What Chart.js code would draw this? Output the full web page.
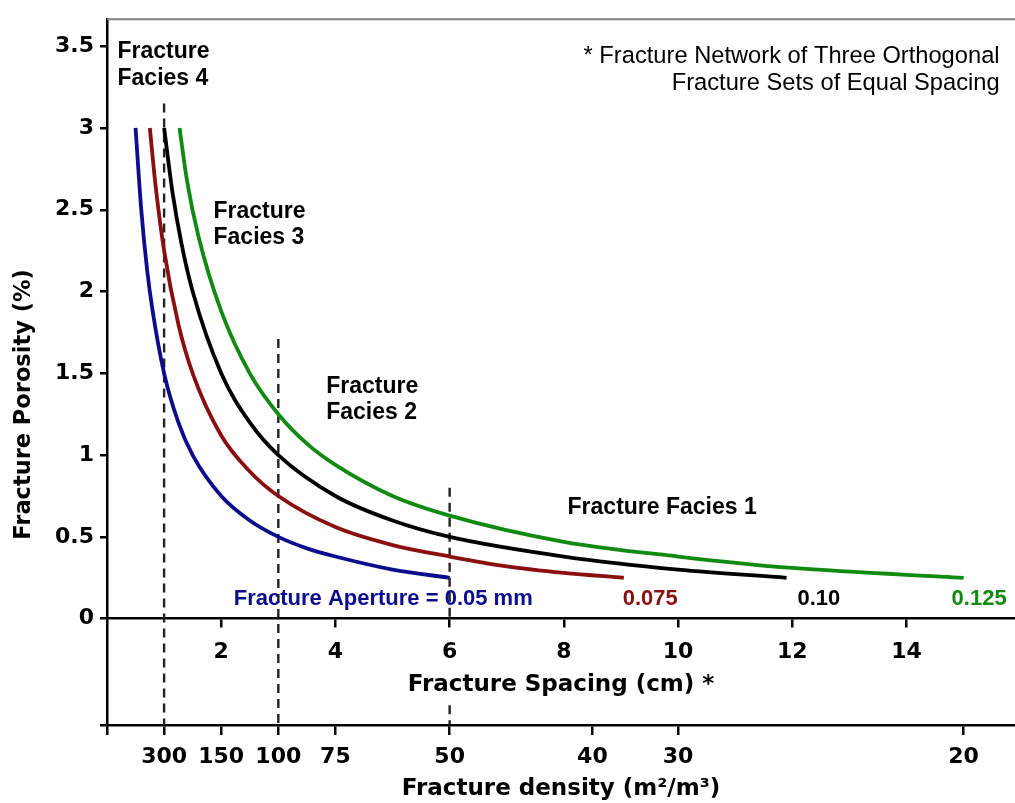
<!DOCTYPE html>
<html>
<head>
<meta charset="utf-8">
<script src="https://cdn.jsdelivr.net/npm/chart.js@4"></script>
<style>
  html, body { margin: 0; padding: 0; background: #fff; }
  canvas { display: block; }
</style>
</head>
<body>
<canvas id="porosityChart" width="1015" height="803"></canvas>
<script>
// valores: espaçamento (cm) x porosidade (%)
const blueSpacing = [0.5, 0.6, 0.7, 0.8, 1.0, 1.25, 1.5, 2.0, 2.5, 3.0, 3.5, 4.0, 5.0, 6.0];
const bluePorosity = [3.0, 2.5, 2.14, 1.88, 1.5, 1.2, 1.0, 0.75, 0.6, 0.5, 0.43, 0.38, 0.3, 0.25];

const redSpacing = [0.75, 0.85, 1.0, 1.25, 1.5, 2.0, 2.5, 3.0, 4.0, 5.0, 6.0, 7.0, 8.0, 9.05];
const redPorosity = [3.0, 2.65, 2.25, 1.8, 1.5, 1.12, 0.9, 0.75, 0.56, 0.45, 0.38, 0.32, 0.28, 0.25];

const blackSpacing = [1.0, 1.15, 1.3, 1.5, 2.0, 2.5, 3.0, 4.0, 5.0, 6.0, 8.0, 10.0, 11.9];
const blackPorosity = [3.0, 2.6, 2.3, 2.0, 1.5, 1.2, 1.0, 0.75, 0.6, 0.5, 0.38, 0.3, 0.25];

const greenSpacing = [1.27, 1.4, 1.6, 2.0, 2.5, 3.0, 3.5, 4.0, 5.0, 6.0, 8.0, 10.0, 12.0, 15.0];
const greenPorosity = [3.0, 2.68, 2.34, 1.88, 1.5, 1.25, 1.07, 0.94, 0.75, 0.63, 0.47, 0.38, 0.31, 0.25];

const apertureLabels = ['Fracture Aperture = 0.05 mm', '0.075', '0.10', '0.125'];
const apertureColors = ['#0c0c8c', '#8a0f0f', '#000000', '#108a10'];

// eixos
const yTicks = [0, 0.5, 1, 1.5, 2, 2.5, 3, 3.5];
const spacingTicks = [2, 4, 6, 8, 10, 12, 14];
const densityLabels = ['300', '150', '100', '75', '50', '40', '30', '20'];
const densitySpacing = [1, 2, 3, 4, 6, 8.5, 10, 15];

// limites das fácies (linhas tracejadas)
const boundarySpacing = [1, 3, 6];
const boundaryTop = [3.15, 1.71, 0.8];

const X_MAX = 15.9;
const Y_MIN = -0.65;
const Y_MAX = 3.665;

function pairs(xs, ys) {
    return xs.map((x, i) => ({ x: x, y: ys[i] }));
}

const curves = [
    pairs(blueSpacing, bluePorosity),
    pairs(redSpacing, redPorosity),
    pairs(blackSpacing, blackPorosity),
    pairs(greenSpacing, greenPorosity)
];

const datasets = curves.map((pts, i) => ({
    label: apertureLabels[i],
    data: pts,
    borderColor: apertureColors[i],
    borderWidth: 3.8,
    pointRadius: 0,
    cubicInterpolationMode: 'monotone',
    fill: false
}));

boundarySpacing.forEach((s, i) => {
    let pts = [{ x: s, y: boundaryTop[i] }, { x: s, y: Y_MIN }];
    if (s === 6) {
        // escondida atrás dos textos do eixo
        pts = [{ x: s, y: boundaryTop[i] }, { x: s, y: 0 }, { x: s, y: null }, { x: s, y: -0.53 }, { x: s, y: Y_MIN }];
    }
    datasets.push({
        label: 'boundary ' + s,
        data: pts,
        borderColor: '#222',
        borderWidth: 2.4,
        borderDash: [9, 6],
        pointRadius: 0,
        spanGaps: false,
        fill: false
    });
});

// textos (posições em unidades dos eixos)
const faciesNotes = [
    { lines: ['Fracture', 'Facies 4'], x: 0.184, y: [3.425, 3.264] },
    { lines: ['Fracture', 'Facies 3'], x: 1.865, y: [2.452, 2.291] },
    { lines: ['Fracture', 'Facies 2'], x: 3.839, y: [1.379, 1.218] },
    { lines: ['Fracture Facies 1'], x: 8.065, y: [0.639] }
];
const apertureLabelX = [2.22, 9.03, 12.09, 14.79];
const apertureLabelY = 0.085;

const textPlugin = {
    id: 'chartText',
    afterDatasetsDraw(chart) {
        const { ctx, chartArea } = chart;
        const xs = chart.scales.x;
        const ys = chart.scales.y;
        ctx.save();

        // moldura superior cinza
        ctx.strokeStyle = '#808080';
        ctx.lineWidth = 2;
        ctx.beginPath();
        ctx.moveTo(chartArea.left, chartArea.top);
        ctx.lineTo(chartArea.right, chartArea.top);
        ctx.stroke();

        ctx.fillStyle = '#000';
        ctx.textBaseline = 'alphabetic';
        ctx.textAlign = 'left';
        ctx.font = 'bold 23px "Liberation Sans", Arial, sans-serif';
        faciesNotes.forEach(n => {
            n.lines.forEach((t, k) => {
                ctx.fillText(t, xs.getPixelForValue(n.x), ys.getPixelForValue(n.y[k]));
            });
        });

        ctx.font = 'bold 22px "Liberation Sans", Arial, sans-serif';
        apertureLabels.forEach((t, i) => {
            ctx.fillStyle = apertureColors[i];
            ctx.fillText(t, xs.getPixelForValue(apertureLabelX[i]), ys.getPixelForValue(apertureLabelY));
        });

        ctx.fillStyle = '#000';
        ctx.textAlign = 'right';
        ctx.font = '23.7px "Liberation Sans", Arial, sans-serif';
        ctx.fillText('* Fracture Network of Three Orthogonal', xs.getPixelForValue(15.63), ys.getPixelForValue(3.399));
        ctx.fillText('Fracture Sets of Equal Spacing', xs.getPixelForValue(15.63), ys.getPixelForValue(3.23));

        // título do eixo y
        ctx.translate(xs.getPixelForValue(-1.445), ys.getPixelForValue(1.31));
        ctx.rotate(-Math.PI / 2);
        ctx.textAlign = 'center';
        ctx.textBaseline = 'middle';
        ctx.font = 'bold 22.5px "DejaVu Sans", sans-serif';
        ctx.fillText('Fracture Porosity (%)', 0, 0);
        ctx.restore();
    }
};

const tickFont = { family: 'DejaVu Sans', size: 22, weight: 'bold' };
const titleFont = { family: 'DejaVu Sans', size: 23, weight: 'bold' };

const ctx = document.getElementById('porosityChart').getContext('2d');
new Chart(ctx, {
    type: 'line',
    data: { datasets: datasets },
    options: {
        responsive: false,
        devicePixelRatio: 1,
        animation: false,
        layout: { padding: { top: 11, left: 0, right: 0, bottom: 0 } },
        plugins: {
            legend: { display: false },
            tooltip: { enabled: false }
        },
        scales: {
            x: {
                type: 'linear',
                min: 0,
                max: X_MAX,
                position: { y: 0 },
                afterBuildTicks: s => { s.ticks = spacingTicks.map(v => ({ value: v })); },
                afterFit: s => { s.height = 80; },
                ticks: { font: tickFont, color: '#000', padding: 12, autoSkip: false, maxRotation: 0 },
                grid: { drawOnChartArea: false, tickLength: 8, color: '#000', lineWidth: 2.5 },
                border: { color: '#000', width: 2.5 },
                title: { display: true, text: 'Fracture Spacing (cm) *', font: titleFont, color: '#000', padding: { top: 6, bottom: 0 } }
            },
            x2: {
                type: 'linear',
                axis: 'x',
                min: 0,
                max: X_MAX,
                position: 'bottom',
                afterBuildTicks: s => { s.ticks = [0].concat(densitySpacing).map(v => ({ value: v })); },
                afterFit: s => { s.height = 78; },
                ticks: {
                    font: tickFont,
                    color: '#000',
                    padding: 9,
                    autoSkip: false,
                    maxRotation: 0,
                    callback: function(v) {
                        const i = densitySpacing.indexOf(v);
                        return i >= 0 ? densityLabels[i] : '';
                    }
                },
                grid: { drawOnChartArea: false, tickLength: 10, color: '#000', lineWidth: 2.5 },
                border: { color: '#000', width: 2.5 },
                title: { display: true, text: 'Fracture density (m²/m³)', font: titleFont, color: '#000', padding: { top: 5, bottom: 0 } }
            },
            y: {
                type: 'linear',
                min: Y_MIN,
                max: Y_MAX,
                position: 'left',
                afterBuildTicks: s => { s.ticks = [Y_MIN].concat(yTicks).map(v => ({ value: v })); },
                afterFit: s => { s.width = 107; },
                ticks: {
                    font: { family: 'DejaVu Sans', size: 22, weight: 'bold' },
                    color: '#000',
                    padding: 6,
                    autoSkip: false,
                    callback: v => yTicks.includes(v) ? String(v) : ''
                },
                grid: { drawOnChartArea: false, tickLength: 7, color: '#000', lineWidth: 2.5 },
                border: { color: '#000', width: 2.5 }
            }
        }
    },
    plugins: [textPlugin]
});
</script>
</body>
</html>
